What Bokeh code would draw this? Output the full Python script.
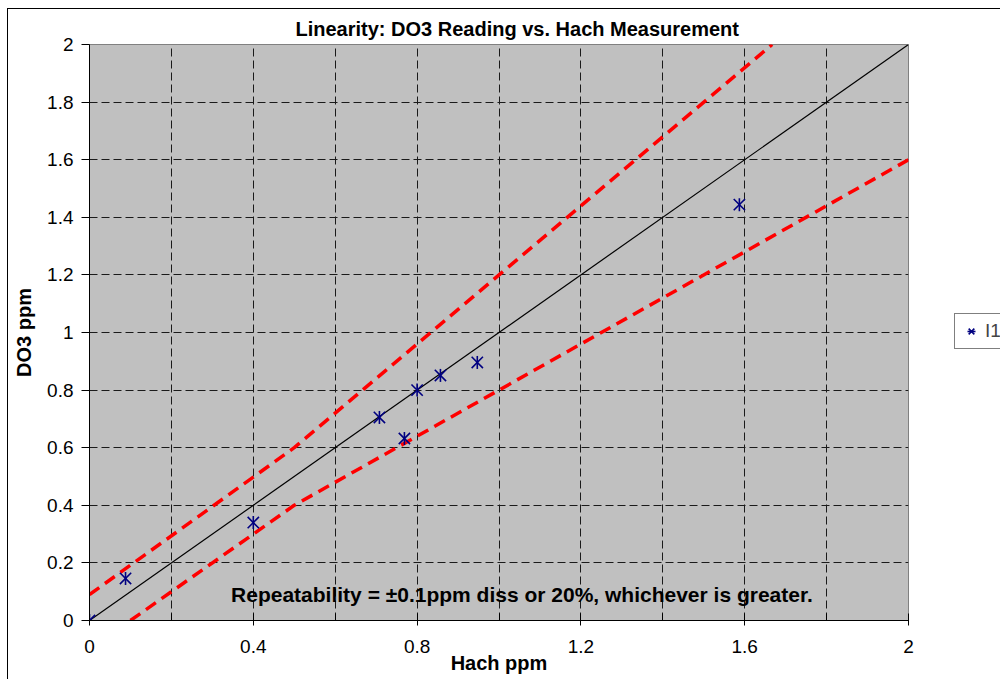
from math import pi
from bokeh.plotting import figure
from bokeh.layouts import row
from bokeh.models import FixedTicker, Label, Legend, LegendItem, Range1d, InlineStyleSheet
from bokeh.embed import file_html
from bokeh.resources import INLINE

# ---- data ----
hach_ppm = [0.0, 0.088, 0.40, 0.708, 0.769, 0.80, 0.857, 0.947, 1.587]
do3_ppm = [0.0, 0.146, 0.34, 0.705, 0.632, 0.80, 0.851, 0.896, 1.444]

ideal_x = [0.0, 2.0]
ideal_y = [0.0, 2.0]

upper_x = [0.0, 0.5, 1.667]
upper_y = [0.09, 0.6, 2.0]
lower_x = [0.1, 0.5, 2.0]
lower_y = [0.0, 0.4, 1.6]

x_ticks = [0, 0.4, 0.8, 1.2, 1.6, 2]
x_tick_labels = ["0", "0.4", "0.8", "1.2", "1.6", "2"]
x_minor_ticks = [0.2, 0.6, 1.0, 1.4, 1.8]
x_grid_ticks = [0.2, 0.4, 0.6, 0.8, 1.0, 1.2, 1.4, 1.6, 1.8]

y_ticks = [0, 0.2, 0.4, 0.6, 0.8, 1.0, 1.2, 1.4, 1.6, 1.8, 2]
y_tick_labels = ["0", "0.2", "0.4", "0.6", "0.8", "1", "1.2", "1.4", "1.6", "1.8", "2"]
y_grid_ticks = [0.2, 0.4, 0.6, 0.8, 1.0, 1.2, 1.4, 1.6, 1.8]

series_name = "I1"

FONT = "Liberation Sans"
NAVY = "#000080"

p = figure(width=954, height=679, x_range=Range1d(0, 2), y_range=Range1d(0, 2),
           output_backend="svg", toolbar_location=None,
           title="Linearity: DO3 Reading vs. Hach Measurement",
           x_axis_label="Hach ppm", y_axis_label="DO3 ppm",
           min_border_left=89, min_border_right=46, min_border_top=44, min_border_bottom=59,
           background_fill_color="#C0C0C0", border_fill_color="white",
           outline_line_color="#808080", outline_line_width=1)

# title
p.title.align = "left"
p.title.offset = 206
p.title.standoff = 9
p.title.text_font = FONT
p.title.text_font_size = "20px"
p.title.text_font_style = "bold"
p.title.text_color = "black"

# axes
p.xaxis.ticker = FixedTicker(ticks=x_ticks, minor_ticks=x_minor_ticks)
p.xaxis.major_label_overrides = dict(zip(x_ticks, x_tick_labels))
p.xaxis.major_tick_in = 7
p.xaxis.major_tick_out = 5
p.xaxis.minor_tick_in = 7
p.xaxis.minor_tick_out = 0
p.xaxis.major_label_standoff = 14
p.xaxis.axis_label_standoff = -4

p.yaxis.ticker = FixedTicker(ticks=y_ticks, minor_ticks=[])
p.yaxis.major_label_overrides = dict(zip(y_ticks, y_tick_labels))
p.yaxis.major_tick_in = 0
p.yaxis.major_tick_out = 8
p.yaxis.minor_tick_in = 0
p.yaxis.minor_tick_out = 0
p.yaxis.major_label_standoff = 8
p.yaxis.axis_label_standoff = 9

for ax in (p.xaxis, p.yaxis):
    ax.axis_line_color = "black"
    ax.major_tick_line_color = "black"
    ax.minor_tick_line_color = "black"
    ax.major_label_text_font = FONT
    ax.major_label_text_font_size = "19px"
    ax.major_label_text_color = "black"
    ax.axis_label_text_font = FONT
    ax.axis_label_text_font_size = "20px"
    ax.axis_label_text_font_style = "bold"
    ax.axis_label_text_color = "black"

p.xgrid.ticker = FixedTicker(ticks=x_grid_ticks)
p.ygrid.ticker = FixedTicker(ticks=y_grid_ticks)
for g in (p.xgrid, p.ygrid):
    g.grid_line_color = "#1a1a1a"
    g.grid_line_dash = "8 4"
    g.grid_line_width = 1

# lines
p.line(ideal_x, ideal_y, line_color="black", line_width=1.2)
p.line(upper_x, upper_y, line_color="#FF0000", line_width=3.5, line_dash="12 7")
p.line(lower_x, lower_y, line_color="#FF0000", line_width=3.5, line_dash="12 7")

# points (Excel star marker: X plus vertical bar)
p.scatter(hach_ppm, do3_ppm, marker="x", size=16, line_color=NAVY, line_width=1.6)
p.scatter(hach_ppm, do3_ppm, marker="dash", angle=pi / 2, size=13,
          line_color=NAVY, line_width=1.6)

p.add_layout(Label(x=1.056, y=0.09,
                   text="Repeatability = \u00b10.1ppm diss or 20%, whichever is greater.",
                   text_font=FONT, text_font_size="21px", text_font_style="bold",
                   text_align="center", text_baseline="middle", text_color="black"))

# ---- legend strip at the right edge ----
lg = figure(width=46, height=679, x_range=Range1d(10, 11), y_range=Range1d(10, 11),
            output_backend="svg", toolbar_location=None,
            x_axis_type=None, y_axis_type=None,
            min_border_left=0, min_border_right=0, min_border_top=0, min_border_bottom=0,
            background_fill_color="white", border_fill_color="white",
            outline_line_color=None)
lg.xgrid.visible = False
lg.ygrid.visible = False
k_x = lg.scatter(hach_ppm, do3_ppm, marker="x", size=16, line_color=NAVY, line_width=1.6)
k_v = lg.scatter(hach_ppm, do3_ppm, marker="dash", angle=pi / 2, size=13,
                 line_color=NAVY, line_width=1.6)
legend = Legend(items=[LegendItem(label=series_name, renderers=[k_x, k_v])],
                location=(0, 271), border_line_color="black", border_line_width=1,
                background_fill_color="white", background_fill_alpha=1,
                label_text_font=FONT, label_text_font_size="19px",
                glyph_width=20, glyph_height=20, label_standoff=4,
                padding=6, spacing=0, margin=0)
lg.add_layout(legend)

layout = row(p, lg)
# outer chart-area border (top and left edges, as in the reference)
layout.stylesheets = [InlineStyleSheet(css=(
    ":host { position: relative; }"
    ":host::after { content: ''; position: absolute; left: 7px; top: 8px; right: 0; bottom: 0;"
    " border-top: 1px solid black; border-left: 1px solid black;"
    " pointer-events: none; z-index: 100; }"))]
open("out.html", "w").write(file_html(layout, INLINE))
